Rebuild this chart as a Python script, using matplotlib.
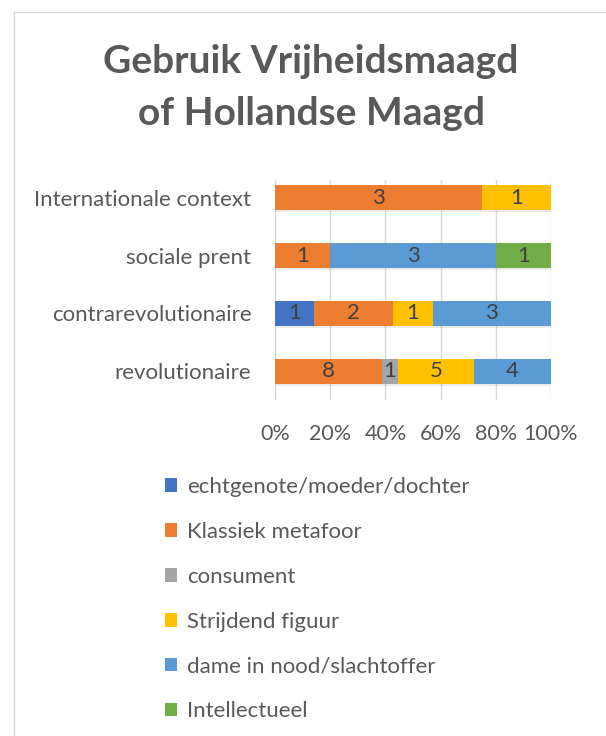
import numpy as np
import matplotlib.pyplot as plt
from matplotlib.patches import Rectangle

# categories bottom -> top
categories = ["revolutionaire", "contrarevolutionaire", "sociale prent", "Internationale context"]
series = ["echtgenote/moeder/dochter", "Klassiek metafoor", "consument",
          "Strijdend figuur", "dame in nood/slachtoffer", "Intellectueel"]
colors = ["#4472C4", "#ED7D31", "#A5A5A5", "#FFC000", "#5B9BD5", "#70AD47"]

# segment sizes as drawn
echtgenote = [0, 1, 0, 0]
klassiek = [7, 2, 1, 3]
consument = [1, 0, 0, 0]
strijdend = [5, 1, 0, 1]
dame = [5, 3, 3, 0]
intellectueel = [0, 0, 1, 0]
# data labels as printed on the chart
labels = [
    ["", "1", "", ""],
    ["8", "2", "1", "3"],
    ["1", "", "", ""],
    ["5", "1", "", "1"],
    ["4", "3", "3", ""],
    ["", "", "1", ""],
]
xticks = [0, 20, 40, 60, 80, 100]
title_lines = ["Gebruik Vrijheidsmaagd", "of Hollandse Maagd"]

font = "Lato"
grey = "#595959"

data = np.array([echtgenote, klassiek, consument, strijdend, dame, intellectueel], dtype=float)
pct = data / data.sum(axis=0) * 100

fig = plt.figure(figsize=(6.06, 7.36), dpi=100)
fig.patches.append(Rectangle((14 / 606, -0.01), 1.0, 1 - 12 / 736 + 0.01,
                             transform=fig.transFigure, fill=False,
                             edgecolor="#D9D9D9", linewidth=1))

top, bottom = 169, 400
ax = fig.add_axes([275 / 606, 1 - bottom / 736, 276 / 606, (bottom - top) / 736])
y = np.arange(len(categories))
h = 0.43
left = np.zeros(len(categories))
for i, name in enumerate(series):
    # soft shadow like the original
    ax.barh(y - 0.035, pct[i], left=left + 0.4, height=h, color="#000000",
            alpha=0.08, linewidth=0, zorder=2)
    ax.barh(y, pct[i], left=left, height=h, color=colors[i], label=name,
            linewidth=0, zorder=3)
    for j in range(len(categories)):
        if labels[i][j]:
            ax.text(left[j] + pct[i][j] / 2, y[j], labels[i][j], ha="center",
                    va="center", fontsize=16, color="#404040", family=font, zorder=4)
    left += pct[i]

ax.set_xlim(0, 100)
ax.set_ylim(-0.5, len(categories) - 0.5)
ax.set_xticks(xticks)
ax.set_xticklabels([f"{t}%" for t in xticks], family=font, fontsize=15.5, color=grey)
ax.set_yticks(y)
ax.set_yticklabels(categories, family=font, fontsize=16, color=grey)
ax.tick_params(length=0, pad=17, axis="x")
ax.tick_params(length=0, pad=17, axis="y")
# gridlines stop a little below the top of the axes, as in the original
grid_top = (bottom - 180) / (bottom - top)
for t in xticks:
    ax.axvline(t, ymin=0, ymax=grid_top, color="#D9D9D9", linewidth=1, zorder=0)
for s in ["top", "right", "bottom", "left"]:
    ax.spines[s].set_visible(False)

for k, line in enumerate(title_lines):
    fig.text(311 / 606, 1 - (73 + 52 * k) / 736, line, ha="center", va="baseline",
             fontsize=28, fontweight="bold", color=grey, family=font)

handles, names = ax.get_legend_handles_labels()
leg = fig.legend(handles[:len(series)], series, loc="upper left",
                 bbox_to_anchor=(145 / 606, 1 - 457 / 736), frameon=False,
                 prop={"family": font, "size": 16}, labelcolor=grey,
                 handlelength=0.55, handleheight=0.55, handletextpad=0.45,
                 labelspacing=1.12)

fig.savefig("out.png", dpi=100)
